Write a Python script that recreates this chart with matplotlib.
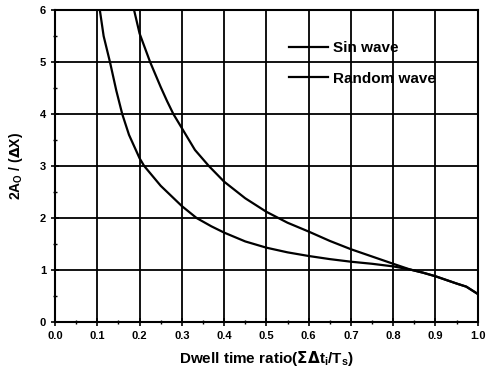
import numpy as np
import matplotlib.pyplot as plt
from matplotlib.ticker import MultipleLocator, FormatStrFormatter

# datos
x_sin = [0.106, 0.115, 0.130, 0.145, 0.159, 0.175, 0.20, 0.211, 0.25, 0.30, 0.335, 0.37, 0.40,
         0.45, 0.50, 0.55, 0.60, 0.65, 0.70, 0.75, 0.80, 0.84, 0.87, 0.90, 0.95, 0.973, 1.0]
y_sin = [6.0, 5.5, 5.0, 4.45, 4.0, 3.6, 3.15, 3.0, 2.62, 2.23, 2.0, 1.84, 1.72,
         1.55, 1.43, 1.34, 1.27, 1.21, 1.16, 1.12, 1.07, 1.01, 0.95, 0.88, 0.74, 0.68, 0.54]

x_rand = [0.187, 0.20, 0.225, 0.25, 0.265, 0.28, 0.30, 0.331, 0.364, 0.40, 0.45, 0.50, 0.55,
          0.60, 0.65, 0.70, 0.75, 0.80, 0.84, 0.87, 0.90, 0.95, 0.973, 1.0]
y_rand = [6.0, 5.55, 5.0, 4.52, 4.25, 4.0, 3.73, 3.31, 3.0, 2.70, 2.38, 2.12, 1.91,
          1.74, 1.56, 1.40, 1.26, 1.12, 1.01, 0.95, 0.88, 0.74, 0.68, 0.54]

plt.rcParams['font.family'] = ['Liberation Sans', 'DejaVu Sans']
plt.rcParams['font.weight'] = 'bold'

fig = plt.figure(figsize=(4.87, 3.74), dpi=100)
ax = fig.add_axes([0.113, 0.139, 0.868, 0.834])

ax.plot(x_sin, y_sin, color='black', lw=1.6, label='Sin wave')
ax.plot(x_rand, y_rand, color='black', lw=1.6, label='Random wave')

ax.set_xlim(0, 1.0)
ax.set_ylim(0, 6)
ax.xaxis.set_major_locator(MultipleLocator(0.1))
ax.xaxis.set_minor_locator(MultipleLocator(0.05))
ax.xaxis.set_major_formatter(FormatStrFormatter('%.1f'))
ax.yaxis.set_major_locator(MultipleLocator(1))
ax.yaxis.set_minor_locator(MultipleLocator(0.5))
ax.yaxis.set_major_formatter(FormatStrFormatter('%d'))
ax.tick_params(which='major', direction='inout', length=6, width=1.2, labelsize=8)
ax.tick_params(which='minor', direction='inout', length=3, width=1.0)
ax.grid(True, which='major', color='black', lw=1.3)
for s in ax.spines.values():
    s.set_linewidth(1.5)

ax.set_xlabel(r'Dwell time ratio($\Sigma\Delta$t$_\mathregular{i}$/T$_\mathregular{s}$)',
              fontsize=11, fontweight='bold')
ax.xaxis.set_label_coords(0.5, -0.085)
ax.set_ylabel(r'2A$_\mathregular{O}$ / ($\Delta$X)', fontsize=10, fontweight='bold')
ax.yaxis.set_label_coords(-0.072, 0.5)

ax.legend(loc='upper left', bbox_to_anchor=(0.52, 0.945), frameon=False,
          fontsize=11, handlelength=2.6, handletextpad=0.3, labelspacing=1.1)

fig.savefig('out.png', dpi=100)
